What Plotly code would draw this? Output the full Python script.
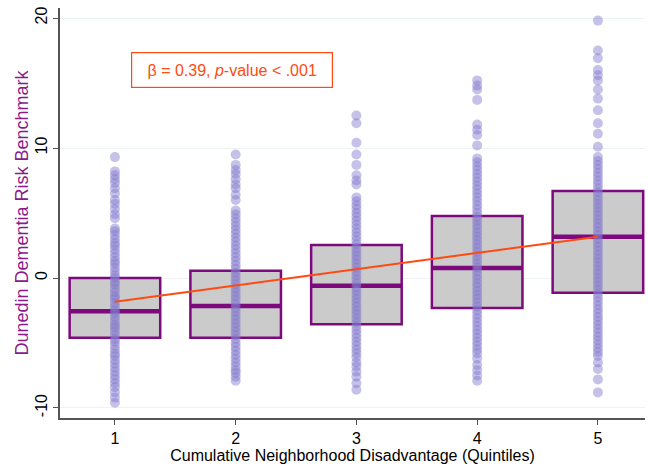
import plotly.graph_objects as go

# ---- data ----
quintiles = [1, 2, 3, 4, 5]
tick_labels = ["1", "2", "3", "4", "5"]
y_tick_vals = [-10, 0, 10, 20]
y_tick_labels = ["-10", "0", "10", "20"]
q1_vals = [-4.6, -4.6, -3.55, -2.3, -1.13]
median_vals = [-2.55, -2.15, -0.6, 0.77, 3.18]
q3_vals = [0.0, 0.56, 2.54, 4.77, 6.7]

pts_q1 = [9.3, 8.2, 7.9, 7.6, 7.3, 6.9, 6.5, 6.0, 5.7, 5.3, 4.9, 4.6,
          3.8, 3.6, 3.3, 3.0, 2.7, 2.5, 2.2, 1.9, 1.6, 1.3, 1.1, 0.8, 0.5, 0.2, 0.0,
          -0.3, -0.5, -0.8, -1.1, -1.4, -1.6, -1.9, -2.2, -2.5, -2.7, -3.0, -3.3,
          -3.6, -3.8, -4.1, -4.4, -4.7, -4.9, -5.2, -5.5, -5.8, -6.0, -6.3, -6.6,
          -6.9, -7.2, -7.5, -7.8, -8.1, -8.4, -8.8, -9.2, -9.6]
pts_q2 = [9.5, 8.7, 8.3, 8.0, 7.6, 7.2, 6.9, 6.4, 6.0,
          5.2, 4.9, 4.6, 4.3, 4.0, 3.7, 3.4, 3.1, 2.8, 2.5, 2.2, 1.9, 1.6, 1.3, 1.0,
          0.7, 0.4, 0.1, -0.2, -0.5, -0.8, -1.1, -1.4, -1.7, -2.0, -2.3, -2.6, -2.9,
          -3.2, -3.5, -3.8, -4.1, -4.4, -4.7, -5.0, -5.3, -5.6, -5.9, -6.2, -6.5,
          -6.8, -7.1, -7.3, -7.6, -7.9]
pts_q3 = [12.5, 11.9, 10.4, 9.5, 8.7, 7.9, 7.5, 7.2,
          6.2, 5.9, 5.6, 5.3, 5.0, 4.7, 4.4, 4.1, 3.8, 3.5, 3.2, 2.9, 2.6, 2.3, 2.0,
          1.7, 1.4, 1.1, 0.8, 0.5, 0.2, -0.1, -0.4, -0.7, -1.0, -1.3, -1.6, -1.9,
          -2.2, -2.5, -2.8, -3.1, -3.4, -3.7, -4.0, -4.3, -4.6, -4.9, -5.2, -5.5,
          -5.8, -6.1, -6.5, -6.8, -7.2, -7.6, -8.1, -8.6]
pts_q4 = [15.2, 14.8, 14.5, 13.7, 11.8, 11.4, 11.0, 10.2,
          9.2, 8.9, 8.6, 8.3, 8.0, 7.7, 7.4, 7.1, 6.8, 6.5, 6.2, 5.9, 5.6, 5.3, 5.0,
          4.7, 4.4, 4.1, 3.8, 3.5, 3.2, 2.9, 2.6, 2.3, 2.0, 1.7, 1.4, 1.1, 0.8, 0.5,
          0.2, -0.1, -0.4, -0.7, -1.0, -1.3, -1.6, -1.9, -2.2, -2.5, -2.8, -3.1,
          -3.4, -3.7, -4.0, -4.3, -4.6, -4.9, -5.2, -5.5, -5.8, -6.2, -6.7, -7.1,
          -7.5, -7.9]
pts_q5 = [19.8, 17.5, 16.9, 16.0, 15.6, 15.2, 14.5, 13.8, 12.9, 11.9, 11.1, 10.1,
          9.3, 9.0, 8.7, 8.4, 8.1, 7.8, 7.5, 7.2, 6.9, 6.6, 6.3, 6.0, 5.7, 5.4, 5.1,
          4.8, 4.5, 4.2, 3.9, 3.6, 3.3, 3.0, 2.7, 2.4, 2.1, 1.8, 1.5, 1.2, 0.9, 0.6,
          0.3, 0.0, -0.3, -0.6, -0.9, -1.2, -1.5, -1.8, -2.1, -2.4, -2.7, -3.0, -3.3,
          -3.6, -3.9, -4.2, -4.5, -4.8, -5.1, -5.4, -5.7, -6.0, -6.5, -7.0, -7.8,
          -8.8]
points_by_group = [pts_q1, pts_q2, pts_q3, pts_q4, pts_q5]

reg_x = [1, 5]
reg_y = [-1.82, 3.18]
annotation_text = "β = 0.39, <i>p</i>-value < .001"

# ---- style ----
BOX_W = 0.75
PURPLE = "#7D0A7D"
DOT = "rgba(130,120,205,0.46)"
ORANGE = "#FF4A12"
FONT = "Liberation Sans, Arial, Helvetica, sans-serif"

fig = go.Figure()

fig.add_trace(go.Box(
    x=quintiles, q1=q1_vals, median=median_vals, q3=q3_vals,
    lowerfence=q1_vals, upperfence=q3_vals,
    width=BOX_W, fillcolor="#CBCBCB",
    line=dict(color=PURPLE, width=2.5), boxpoints=False,
    whiskerwidth=0, showlegend=False, hoverinfo="skip"))

for xq, m in zip(quintiles, median_vals):
    fig.add_trace(go.Scatter(
        x=[xq - BOX_W / 2, xq + BOX_W / 2], y=[m, m], mode="lines",
        line=dict(color=PURPLE, width=4.5), showlegend=False, hoverinfo="skip"))

for xq, pts in zip(quintiles, points_by_group):
    fig.add_trace(go.Scatter(
        x=[xq] * len(pts), y=pts, mode="markers",
        marker=dict(size=10, color=DOT, line=dict(width=0)),
        showlegend=False, hoverinfo="skip"))

fig.add_trace(go.Scatter(
    x=reg_x, y=reg_y, mode="lines", line=dict(color=ORANGE, width=2),
    showlegend=False, hoverinfo="skip"))

fig.add_annotation(
    x=1.97, y=16.0, xref="x", yref="y", text=annotation_text, showarrow=False,
    font=dict(family=FONT, size=16, color=ORANGE),
    bordercolor=ORANGE, borderwidth=1.2, borderpad=7, bgcolor="white",
    width=186, height=20)

fig.update_layout(
    width=648, height=468,
    margin=dict(l=60, r=3, t=8, b=50, autoexpand=False),
    paper_bgcolor="white", plot_bgcolor="white",
    font=dict(family=FONT, size=16, color="black"),
)
fig.update_xaxes(
    range=[0.545, 5.39], tickvals=quintiles, ticktext=tick_labels, automargin=False,
    showgrid=False, zeroline=False, showline=True, linecolor="#555555", linewidth=1.5,
    ticks="outside", ticklen=5, tickcolor="#555555", tickfont=dict(size=16),
    title=dict(text="Cumulative Neighborhood Disadvantage (Quintiles)",
               font=dict(size=16), standoff=4))
fig.update_yaxes(
    range=[-10.77, 20.77], tickvals=y_tick_vals, ticktext=y_tick_labels,
    tickangle=-90, automargin=False,
    showgrid=True, gridcolor="#EDF2F4", gridwidth=1.2, zeroline=False,
    showline=True, linecolor="#555555", linewidth=1.5,
    ticks="outside", ticklen=5, tickcolor="#555555", tickfont=dict(size=16),
    title=dict(text="Dunedin Dementia Risk Benchmark",
               font=dict(size=18, color="#8B1A8B"), standoff=0))

fig.write_html("out.html", config={"displayModeBar": False},
               post_script="document.body.style.margin='0';document.body.style.padding='0';")
